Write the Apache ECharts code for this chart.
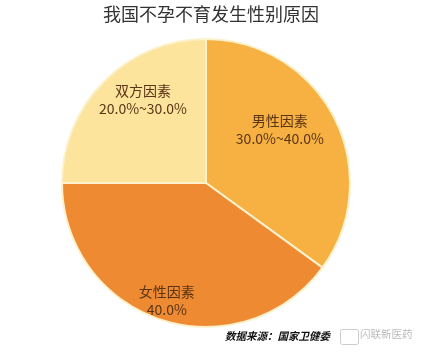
<!DOCTYPE html>
<html>
<head>
<meta charset="utf-8">
<script src="https://cdn.jsdelivr.net/npm/echarts@6/dist/echarts.min.js"></script>
<style>
  html, body { margin: 0; padding: 0; background: #fff; }
  #chart { width: 422px; height: 352px; }
</style>
</head>
<body>
<div id="chart"></div>
<script>
const categories = ['男性因素', '女性因素', '双方因素'];
const values = [35, 40, 25];
const rangeLabels = ['30.0%~40.0%', '40.0%', '20.0%~30.0%'];
const colors = ['#f6b142', '#ee8a32', '#fce49c'];

// nudges for the inner labels (dx, dy), in slice order
const labelShift = [[7, -19], [-16, 46], [-10, -30]];

const chart = echarts.init(document.getElementById('chart'));

const pieData = categories.map((name, i) => ({
    name: name,
    value: values[i],
    range: rangeLabels[i],
    itemStyle: { color: colors[i] }
}));

const option = {
    backgroundColor: '#fff',
    title: {
        text: '我国不孕不育发生性别原因',
        left: 'center',
        top: 0,
        textStyle: {
            fontFamily: 'Noto Sans CJK SC',
            fontSize: 18,
            fontWeight: 'normal',
            color: '#333'
        }
    },
    series: [
        {
            type: 'pie',
            center: [206, 183],
            radius: [0, 144],
            startAngle: 90,
            clockwise: true,
            animation: false,
            data: pieData,
            itemStyle: {
                borderColor: '#fdf1cc',
                borderWidth: 2
            },
            label: {
                show: true,
                position: 'inner',
                fontFamily: 'Noto Sans CJK SC',
                fontSize: 14,
                lineHeight: 18,
                color: '#5a3416',
                formatter: p => p.name + '\n' + p.data.range
            },
            labelLine: { show: false },
            labelLayout: p => ({
                dx: labelShift[p.dataIndex][0],
                dy: labelShift[p.dataIndex][1]
            })
        }
    ],
    graphic: [
        {
            type: 'text',
            left: 225,
            top: 331,
            style: {
                text: '数据来源：国家卫健委',
                fontFamily: 'Noto Sans CJK SC',
                fontSize: 10.5,
                fontStyle: 'italic',
                fontWeight: 'bold',
                fill: '#111'
            }
        },
        {
            type: 'rect',
            left: 338,
            top: 327,
            shape: { width: 18, height: 15, r: 2 },
            style: { fill: 'none', stroke: '#ccc', lineWidth: 1 }
        },
        {
            type: 'text',
            left: 360,
            top: 329,
            style: {
                text: '闪联新医药',
                fontFamily: 'Noto Sans CJK SC',
                fontSize: 10.5,
                fill: '#bbb'
            }
        }
    ]
};

chart.setOption(option);
window.addEventListener('resize', () => chart.resize());
</script>
</body>
</html>
